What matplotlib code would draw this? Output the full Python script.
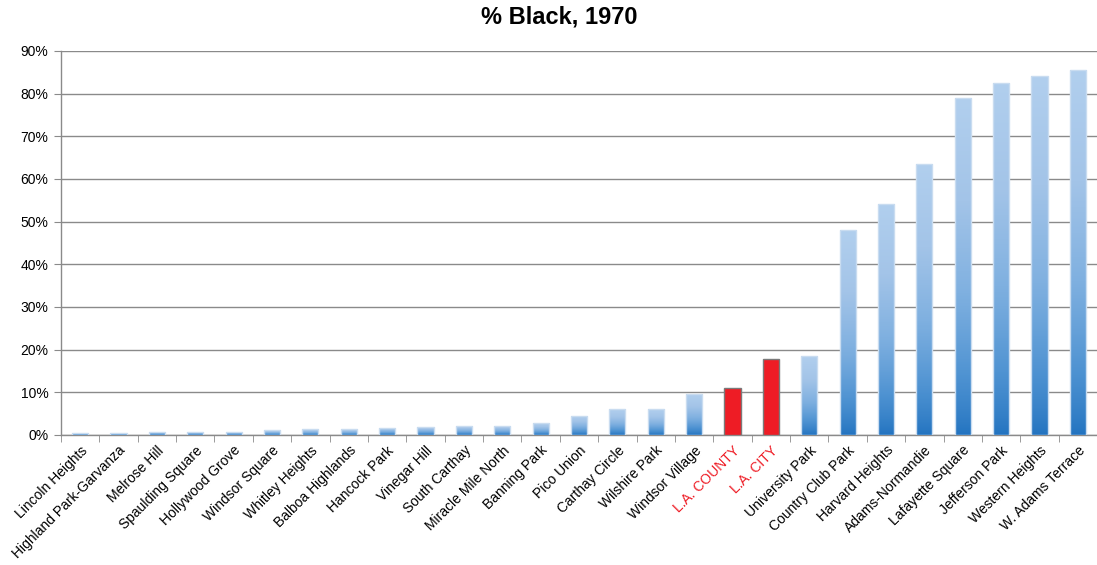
import numpy as np
import matplotlib
matplotlib.use("Agg")
import matplotlib.pyplot as plt
from matplotlib.colors import LinearSegmentedColormap

plt.rcParams['font.family'] = ['Liberation Sans', 'DejaVu Sans']

neighborhoods = [
    "Lincoln Heights", "Highland Park-Garvanza", "Melrose Hill", "Spaulding Square",
    "Hollywood Grove", "Windsor Square", "Whitley Heights", "Balboa Highlands",
    "Hancock Park", "Vinegar Hill", "South Carthay", "Miracle Mile North",
    "Banning Park", "Pico Union", "Carthay Circle", "Wilshire Park",
    "Windsor Village", "L.A. COUNTY", "L.A. CITY", "University Park",
    "Country Club Park", "Harvard Heights", "Adams-Normandie", "Lafayette Square",
    "Jefferson Park", "Western Heights", "W. Adams Terrace",
]
pct_black = [
    0.5, 0.5, 0.8, 0.8, 0.8, 1.1, 1.4, 1.4, 1.7, 1.9, 2.2, 2.2,
    2.8, 4.5, 6.0, 6.0, 9.5, 10.9, 17.9, 18.6,
    48.0, 54.1, 63.4, 78.9, 82.6, 84.2, 85.5,
]
highlight = {"L.A. COUNTY", "L.A. CITY"}
yticks = list(range(0, 91, 10))

fig = plt.figure(figsize=(10.97, 5.65), dpi=100)
ax = fig.add_axes([61 / 1097, 1 - 435 / 565, 1 - 61 / 1097, (435 - 51) / 565])

x = np.arange(len(neighborhoods))
width = 0.42
colors = ["#ee1c25" if n in highlight else "none" for n in neighborhoods]
edges = ["#7a7a7a" if n in highlight else "#c9dcf0" for n in neighborhoods]
bars = ax.bar(x, pct_black, width=width, color=colors, edgecolor=edges,
              linewidth=1.0, zorder=3)

# vertical blue gradient inside each regular bar (light top, deep blue bottom)
blue = LinearSegmentedColormap.from_list(
    "bluebar", ["#2273c0", "#4f93d2", "#7fb0e0", "#a3c4e8", "#b1cfee"])
grad = np.linspace(0, 1, 256).reshape(-1, 1) ** 0.8
for rect, name in zip(bars, neighborhoods):
    if name in highlight:
        continue
    x0, w, h = rect.get_x(), rect.get_width(), rect.get_height()
    im = ax.imshow(grad, cmap=blue, origin="lower", aspect="auto",
                   extent=(x0, x0 + w, 0, h), zorder=2.9, interpolation="bicubic")
    im.set_clip_path(rect)

ax.set_xlim(-0.5, len(neighborhoods) - 0.5)
ax.set_ylim(0, 90)
ax.set_yticks(yticks)
ax.set_yticklabels([f"{v}%" for v in yticks], fontsize=10)
ax.yaxis.grid(True, color="#8a8a8a", linewidth=1.0, zorder=0)
ax.set_axisbelow(True)

ax.set_xticks(x)
ax.set_xticklabels(neighborhoods, rotation=45, ha="right", rotation_mode="anchor",
                   fontsize=10)
for lbl in ax.get_xticklabels():
    if lbl.get_text() in highlight:
        lbl.set_color("#ee1c25")
ax.set_xticks(np.arange(-0.5, len(neighborhoods)), minor=True)
ax.tick_params(axis="x", which="major", length=0, pad=6)
ax.tick_params(axis="x", which="minor", length=5, color="#8a8a8a", direction="out")
ax.tick_params(axis="y", length=5, color="#8a8a8a", pad=4)

for side in ("top", "right"):
    ax.spines[side].set_visible(False)
for side in ("left", "bottom"):
    ax.spines[side].set_color("#8a8a8a")
    ax.spines[side].set_linewidth(1.0)

fig.text(559 / 1097, 1 - 17 / 565, "% Black, 1970", ha="center", va="center",
         fontsize=17, fontweight="bold")

fig.savefig("out.png", dpi=100)
